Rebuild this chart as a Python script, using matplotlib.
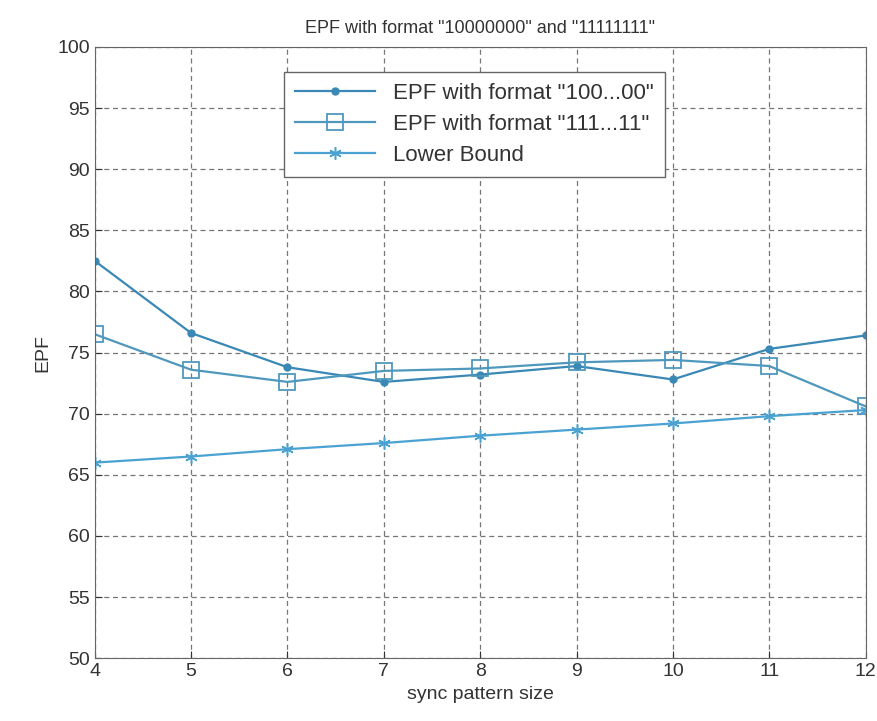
import matplotlib
matplotlib.use("Agg")
import matplotlib.pyplot as plt

sizes = [4, 5, 6, 7, 8, 9, 10, 11, 12]
epf_100 = [82.5, 76.6, 73.8, 72.6, 73.2, 73.9, 72.8, 75.3, 76.4]
epf_111 = [76.5, 73.6, 72.6, 73.5, 73.7, 74.2, 74.4, 73.9, 70.6]
lower_bound = [66.0, 66.5, 67.1, 67.6, 68.2, 68.7, 69.2, 69.8, 70.3]

plt.rcParams["font.family"] = ["Liberation Sans", "DejaVu Sans"]

fig = plt.figure(figsize=(8.77, 7.21), dpi=100)
ax = fig.add_axes([0.108, 0.087, 0.879, 0.848])

ax.plot(sizes, epf_100, color="#3a88b5", lw=1.6, marker="o", ms=5,
        label='EPF with format "100...00"')
ax.plot(sizes, epf_111, color="#4e98bd", lw=1.6, marker="s", ms=11,
        mfc="none", mew=1.3, label='EPF with format "111...11"')
ax.plot(sizes, lower_bound, color="#4aa2d2", lw=1.6, marker=(6, 2, 0), ms=9,
        mew=1.1, label="Lower Bound")

ax.set_xlim(4, 12)
ax.set_ylim(50, 100)
ax.set_xticks(sizes)
ax.set_yticks(range(50, 101, 5))
ax.grid(True, ls=(0, (4, 3)), color="#777777", lw=0.9)
for s in ax.spines.values():
    s.set_color("#666666")
ax.tick_params(labelsize=14, colors="#333333", direction="in", length=5)

ax.set_title('EPF with format "10000000" and "11111111"', fontsize=13, color="#333333", pad=10)
ax.set_xlabel("sync pattern size", fontsize=14, color="#333333", labelpad=4)
ax.set_ylabel("EPF", fontsize=14, color="#333333")

leg = ax.legend(loc="upper left", bbox_to_anchor=(0.246, 0.959), borderaxespad=0,
                fontsize=16, fancybox=False, framealpha=1, edgecolor="#666666",
                handlelength=3.6, labelspacing=0.45, borderpad=0.5)
for t in leg.get_texts():
    t.set_color("#333333")

fig.savefig("out.png", dpi=100)
